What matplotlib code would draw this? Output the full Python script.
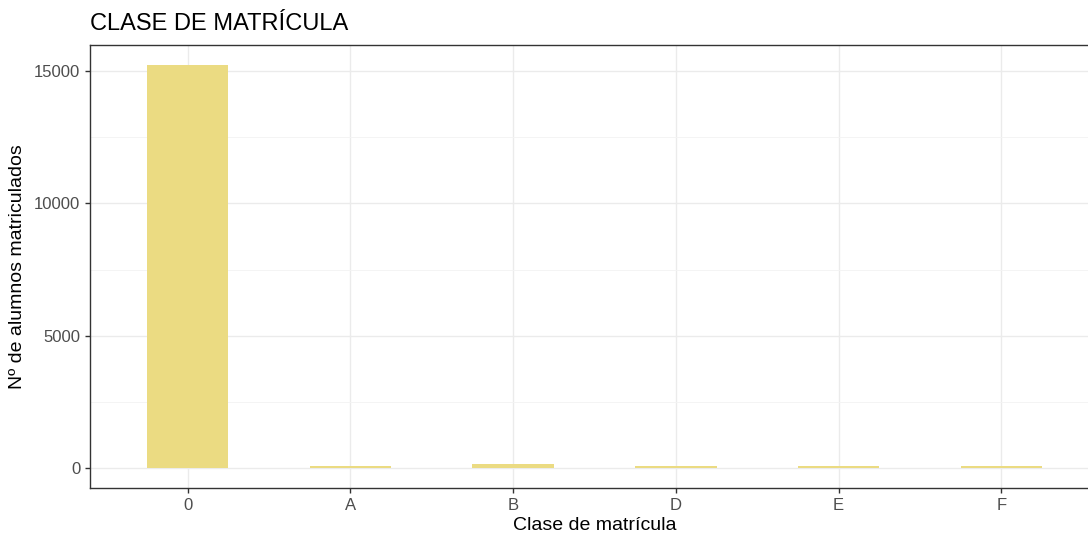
import matplotlib
matplotlib.use("Agg")
import matplotlib.pyplot as plt
import numpy as np

plt.rcParams['font.family'] = ['Liberation Sans', 'DejaVu Sans']

# datos
clases = ['0', 'A', 'B', 'D', 'E', 'F']
n_alumnos = [15230, 60, 150, 60, 60, 60]

fig = plt.figure(figsize=(10.88, 5.37), dpi=100)
W, H = 1088, 537
# panel desde x=90 a x=1099 (se corta a la derecha), y de 45 a 488
ax = fig.add_axes([90 / W, 1 - 488 / H, (1099 - 90) / W, (488 - 45) / H])

x = np.arange(len(clases))
ax.bar(x, n_alumnos, width=0.5, color='#ebdb82', linewidth=0, zorder=3)

ax.set_xlim(-0.6, len(clases) - 1 + 0.6)
ymax = max(n_alumnos)
ax.set_ylim(-0.05 * ymax, 1.05 * ymax)

ax.set_xticks(x)
ax.set_xticklabels(clases)
ax.set_yticks([0, 5000, 10000, 15000])
ax.set_yticks([2500, 7500, 12500], minor=True)
ax.set_xticks([], minor=True)

ax.grid(True, which='major', color='#ebebeb', linewidth=1.0, zorder=0)
ax.grid(True, which='minor', axis='y', color='#f3f3f3', linewidth=0.6, zorder=0)
ax.set_axisbelow(True)

for s in ax.spines.values():
    s.set_color('#333333')
    s.set_linewidth(1.0)

ax.tick_params(axis='both', which='major', colors='#333333', labelcolor='#4d4d4d',
               labelsize=12, length=3.5, width=1)
ax.tick_params(axis='both', which='minor', length=0)

ax.set_xlabel('Clase de matrícula', fontsize=14, color='black', labelpad=3)
ax.set_ylabel('Nº de alumnos matriculados', fontsize=14, color='black', labelpad=6)

fig.text(90 / W, 1 - 24 / H, 'CLASE DE MATRÍCULA', fontsize=17, va='center', ha='left')

fig.savefig('out.png', dpi=100)
